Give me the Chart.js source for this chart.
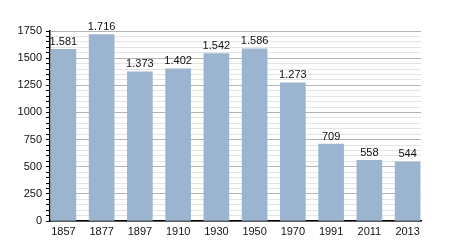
<!DOCTYPE html>
<html>
<head>
<meta charset="utf-8">
<script src="https://cdn.jsdelivr.net/npm/chart.js@4"></script>
<style>
  html, body { margin: 0; padding: 0; background: #fff; }
  #wrap { width: 450px; height: 250px; }
</style>
</head>
<body>
<div id="wrap"><canvas id="pop-chart"></canvas></div>
<script>
const years = ["1857", "1877", "1897", "1910", "1930", "1950", "1970", "1991", "2011", "2013"];
const population = [1581, 1716, 1373, 1402, 1542, 1586, 1273, 709, 558, 544];
const yTicks = [0, 250, 500, 750, 1000, 1250, 1500, 1750];

// thousands with a dot, like 1.581
const fmt = (v) => v >= 1000 ? Math.floor(v / 1000) + "." + String(v % 1000).padStart(3, "0") : String(v);

const valueLabels = {
    id: "valueLabels",
    afterDatasetsDraw(chart) {
        const ctx = chart.ctx;
        const meta = chart.getDatasetMeta(0);
        ctx.save();
        ctx.font = "11px 'Liberation Sans', Arial, sans-serif";
        ctx.fillStyle = "#111";
        ctx.textAlign = "center";
        ctx.textBaseline = "bottom";
        meta.data.forEach((bar, i) => {
            ctx.fillText(fmt(population[i]), bar.x, bar.y - 2);
        });
        ctx.restore();
    },
};

const popContext = document.getElementById("pop-chart");

const popData = {
    datasets: [
        {
            data: population.map((v, i) => ({ x: i, y: v })),
            backgroundColor: "#9bb4d0",
            barThickness: 25,
        },
    ],
};

const popConfig = {
    type: "bar",
    data: popData,
    plugins: [valueLabels],
    options: {
        responsive: true,
        maintainAspectRatio: false,
        animation: false,
        layout: { padding: { top: 31, right: 29, bottom: 0, left: 0 } },
        plugins: {
            legend: { display: false },
            tooltip: { enabled: false },
        },
        scales: {
            x: {
                type: "linear",
                min: -0.35,
                max: 9.35,
                offset: false,
                grid: { display: false, drawTicks: false },
                border: { color: "#000", width: 1.5 },
                afterBuildTicks(s) { s.ticks = years.map((_, i) => ({ value: i })); },
                ticks: {
                    color: "#111",
                    padding: 4,
                    maxRotation: 0,
                    autoSkip: false,
                    font: { family: "'Liberation Sans', Arial, sans-serif", size: 11 },
                    callback: (v) => years[v] || "",
                },
                afterFit(s) { s.height = 29; },
            },
            y: {
                min: 0,
                max: 1750,
                ticks: {
                    stepSize: 50,
                    autoSkip: false,
                    color: "#111",
                    padding: 4,
                    font: { family: "'Liberation Sans', Arial, sans-serif", size: 11 },
                    callback: (v) => yTicks.includes(v) ? String(v) : "",
                },
                grid: {
                    color: (c) => (c.tick && c.tick.value % 250 === 0) ? "#b4b4b4" : "#e4e4e4",
                    tickColor: "#000",
                    tickLength: 4,
                    drawOnChartArea: true,
                },
                border: { color: "#000", width: 1.5 },
                afterFit(s) { s.width = 50; },
            },
        },
    },
};

const popChart = new Chart(popContext, popConfig);
</script>
</body>
</html>
